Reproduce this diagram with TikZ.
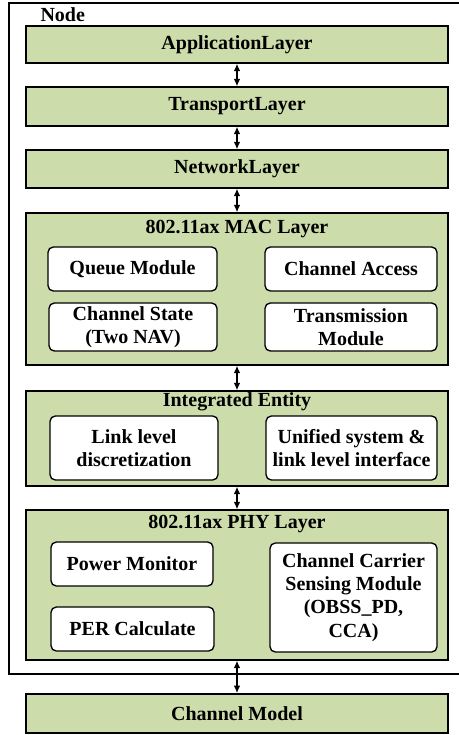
\documentclass[tikz,border=0pt]{standalone}
\usepackage{fontspec}
\setmainfont{Liberation Serif}
\usetikzlibrary{arrows.meta}

\definecolor{layergreen}{RGB}{204,220,170}

\tikzset{every picture/.style={line width=0.75pt}}
\tikzset{
  layerbox/.style={draw, fill=layergreen, minimum width=316.5pt, inner sep=0pt, line width=1.1pt},
  modbox/.style={draw, fill=white, rounded corners=4pt, inner sep=0pt, align=center, line width=1pt},
  lbl/.style={inner sep=0.75pt, font=\fontsize{15}{17.5}\selectfont\bfseries, align=center},
  dblarrow/.style={{Latex[length=5.5pt,width=5pt]}-{Latex[length=5.5pt,width=5pt]}, line width=1pt}
}

\begin{document}
\begin{tikzpicture}[x=0.75pt,y=0.75pt,yscale=-1,xscale=1]
\useasboundingbox (0,0) rectangle (458,735);

%Shape: open frame [id:node]
\draw [line width=1.3pt] (460,3) -- (9,3) -- (9,674) -- (460,674);
% Text Node
\node (nodelbl) at (39,15) [anchor=west, lbl] {Node};

%Layer boxes
\node (app) at (237,44.5) [layerbox, minimum height=27.75pt] {};
\node (trans) at (237,106.5) [layerbox, minimum height=29.25pt] {};
\node (net) at (237,169) [layerbox, minimum height=28.5pt] {};
\node (mac) at (237,289) [layerbox, minimum height=114pt] {};
\node (integ) at (237,438.5) [layerbox, minimum height=71.25pt] {};
\node (phy) at (237,585) [layerbox, minimum height=112.5pt] {};
\node (chmodel) at (237,713.5) [layerbox, minimum height=29.25pt, line width=1.5pt] {};

% Text Node
\node (applbl) at (app) [lbl] {ApplicationLayer};
\node (translbl) at (trans) [lbl] {TransportLayer};
\node (netlbl) at (net) [lbl] {NetworkLayer};
\node (maclbl) at (237,229) [lbl] {802.11ax MAC Layer};
\node (integlbl) at (237,402) [lbl] {Integrated Entity};
\node (phylbl) at (237,524) [lbl] {802.11ax PHY Layer};
\node (chmodellbl) at (chmodel) [lbl] {Channel Model};

%MAC modules
\node (queue) at (132.5,269) [modbox, minimum width=126.75pt, minimum height=33pt] {};
\node (chacc) at (351,269) [modbox, minimum width=129pt, minimum height=33pt] {};
\node (chstate) at (133,327) [modbox, minimum width=126pt, minimum height=36pt] {};
\node (txmod) at (351,327) [modbox, minimum width=129pt, minimum height=36pt] {};
\node at (queue) [lbl] {Queue Module};
\node at (chacc) [lbl] {Channel Access};
\node at (chstate) [lbl] {Channel State\\(Two NAV)};
\node at (txmod) [lbl] {Transmission\\Module};

%Integrated entity modules
\node (linklvl) at (134,448) [modbox, minimum width=126pt, minimum height=48pt] {};
\node (unified) at (351.5,448) [modbox, minimum width=128.25pt, minimum height=48pt] {};
\node at (linklvl) [lbl] {Link level\\discretization};
\node at (unified) [lbl] {Unified system \&\\link level interface};

%PHY modules
\node (power) at (132,564) [modbox, minimum width=121.5pt, minimum height=33pt] {};
\node (per) at (132.5,629) [modbox, minimum width=122.25pt, minimum height=33pt] {};
\node (carrier) at (353.5,597.5) [modbox, minimum width=125.25pt, minimum height=81.75pt] {};
\node at (power) [lbl] {Power Monitor};
\node at (per) [lbl] {PER Calculate};
\node at (carrier) [lbl] {Channel Carrier\\Sensing Module\\(OBSS\_PD,\\CCA)};

%Straight Lines
\draw [dblarrow] (app) -- (trans);
\draw [dblarrow] (trans) -- (net);
\draw [dblarrow] (net) -- (mac);
\draw [dblarrow] (mac) -- (integ);
\draw [dblarrow] (integ) -- (phy);
\draw [dblarrow] (phy) -- (chmodel);

\end{tikzpicture}
\end{document}
